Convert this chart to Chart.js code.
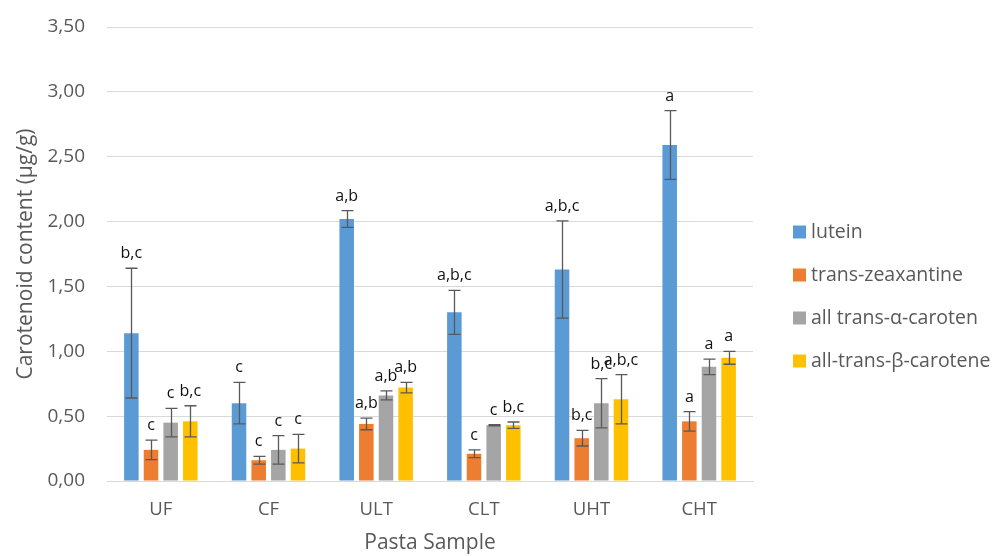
<!DOCTYPE html>
<html>
<head>
<meta charset="utf-8">
<script src="https://cdn.jsdelivr.net/npm/chart.js@4"></script>
<style>
  html, body { margin: 0; padding: 0; background: #fff; }
  #wrap { width: 995px; height: 556px; position: relative; }
</style>
</head>
<body>
<div id="wrap"><canvas id="chartCarot"></canvas></div>
<script>
// Amostras e séries
const samples = ['UF', 'CF', 'ULT', 'CLT', 'UHT', 'CHT'];
const seriesNames = ['lutein', 'trans-zeaxantine', 'all trans-\u03B1-caroten', 'all-trans-\u03B2-carotene'];

const lutein = [1.14, 0.60, 2.02, 1.30, 1.63, 2.59];
const zeaxantine = [0.24, 0.16, 0.44, 0.21, 0.33, 0.46];
const alphaCarotene = [0.45, 0.24, 0.66, 0.43, 0.60, 0.88];
const betaCarotene = [0.46, 0.25, 0.72, 0.43, 0.63, 0.95];

// desvio (barra de erro, +/-)
const luteinErr = [0.50, 0.16, 0.065, 0.17, 0.375, 0.265];
const zeaxantineErr = [0.075, 0.03, 0.045, 0.03, 0.06, 0.075];
const alphaCaroteneErr = [0.11, 0.11, 0.035, 0.005, 0.19, 0.06];
const betaCaroteneErr = [0.12, 0.11, 0.04, 0.025, 0.19, 0.05];

// letras de significância
const luteinSig = ['b,c', 'c', 'a,b', 'a,b,c', 'a,b,c', 'a'];
const zeaxantineSig = ['c', 'c', 'a,b', 'c', 'b,c', 'a'];
const alphaCaroteneSig = ['c', 'c', 'a,b', 'c', 'b,c', 'a'];
const betaCaroteneSig = ['b,c', 'c', 'a,b', 'b,c', 'a,b,c', 'a'];

const yTicks = [0, 0.5, 1, 1.5, 2, 2.5, 3, 3.5];

const colors = ['#5b9bd5', '#ed7d31', '#a5a5a5', '#ffc000'];
const FONT = "'Open Sans', sans-serif";
const GREY_TEXT = '#595959';

// Barras de erro + letras
const errorBarPlugin = {
    id: 'errorBars',
    afterDatasetsDraw(chart) {
        const ctx = chart.ctx;
        const y = chart.scales.y;
        ctx.save();
        chart.data.datasets.forEach((ds, di) => {
            const meta = chart.getDatasetMeta(di);
            meta.data.forEach((bar, i) => {
                const v = ds.data[i];
                const e = ds.errors[i];
                const yTop = y.getPixelForValue(v + e);
                const yBot = y.getPixelForValue(v - e);
                const x = Math.round(bar.x) + 0.5;
                ctx.strokeStyle = '#595959';
                ctx.lineWidth = 1.3;
                ctx.beginPath();
                ctx.moveTo(x, yTop); ctx.lineTo(x, yBot);
                ctx.moveTo(x - 6, yTop); ctx.lineTo(x + 6, yTop);
                ctx.moveTo(x - 6, yBot); ctx.lineTo(x + 6, yBot);
                ctx.stroke();

                ctx.fillStyle = '#111';
                ctx.font = '16px ' + FONT;
                ctx.textAlign = 'center';
                ctx.textBaseline = 'alphabetic';
                ctx.fillText(ds.sig[i], bar.x, yTop - 10);
            });
        });
        ctx.restore();
    }
};

// Legenda desenhada à direita
const sideLegendPlugin = {
    id: 'sideLegend',
    afterDraw(chart) {
        const ctx = chart.ctx;
        ctx.save();
        ctx.font = '19.5px ' + FONT;
        ctx.textBaseline = 'middle';
        ctx.textAlign = 'left';
        chart.data.datasets.forEach((ds, i) => {
            const cy = 232 + i * 43;
            ctx.fillStyle = ds.backgroundColor;
            ctx.fillRect(793, cy - 6.5, 13, 13);
            ctx.fillStyle = GREY_TEXT;
            ctx.fillText(ds.label, 811, cy);
        });
        ctx.restore();
    }
};

const seriesData = [lutein, zeaxantine, alphaCarotene, betaCarotene];
const seriesErr = [luteinErr, zeaxantineErr, alphaCaroteneErr, betaCaroteneErr];
const seriesSig = [luteinSig, zeaxantineSig, alphaCaroteneSig, betaCaroteneSig];

new Chart(document.getElementById('chartCarot'), {
    type: 'bar',
    data: {
        labels: samples,
        datasets: seriesNames.map((name, i) => ({
            label: name,
            data: seriesData[i],
            errors: seriesErr[i],
            sig: seriesSig[i],
            backgroundColor: colors[i],
            borderWidth: 0,
            barPercentage: 0.74,
            categoryPercentage: 0.73
        }))
    },
    options: {
        responsive: true,
        maintainAspectRatio: false,
        animation: false,
        layout: { padding: { left: 0, right: 242, top: 27, bottom: 0 } },
        plugins: {
            legend: { display: false },
            tooltip: { enabled: false }
        },
        scales: {
            x: {
                grid: { display: false, drawTicks: false },
                border: { color: '#d9d9d9', width: 1 },
                ticks: { color: GREY_TEXT, font: { family: FONT, size: 18.5 }, padding: 18 },
                title: {
                    display: true,
                    text: 'Pasta Sample',
                    color: GREY_TEXT,
                    font: { family: FONT, size: 21, lineHeight: 1 },
                    padding: { top: 0, bottom: 2 }
                },
                afterFit(scale) { scale.height = 75; }
            },
            y: {
                min: 0,
                max: 3.5,
                afterBuildTicks(scale) { scale.ticks = yTicks.map(v => ({ value: v })); },
                grid: { color: '#d9d9d9', drawTicks: false },
                border: { display: false },
                ticks: {
                    color: GREY_TEXT,
                    font: { family: FONT, size: 19 },
                    padding: 22,
                    callback: function (value) {
                        return value.toFixed(2).replace('.', ',');
                    }
                },
                title: {
                    display: true,
                    text: 'Carotenoid content (\u00B5g/g)',
                    color: GREY_TEXT,
                    font: { family: FONT, size: 21, lineHeight: 1 },
                    padding: { top: 16, bottom: 0 }
                },
                afterFit(scale) {
                    scale.width = 107;
                    scale.paddingTop = 0;
                    scale.paddingBottom = 0;
                }
            }
        }
    },
    plugins: [errorBarPlugin, sideLegendPlugin]
});
</script>
</body>
</html>
